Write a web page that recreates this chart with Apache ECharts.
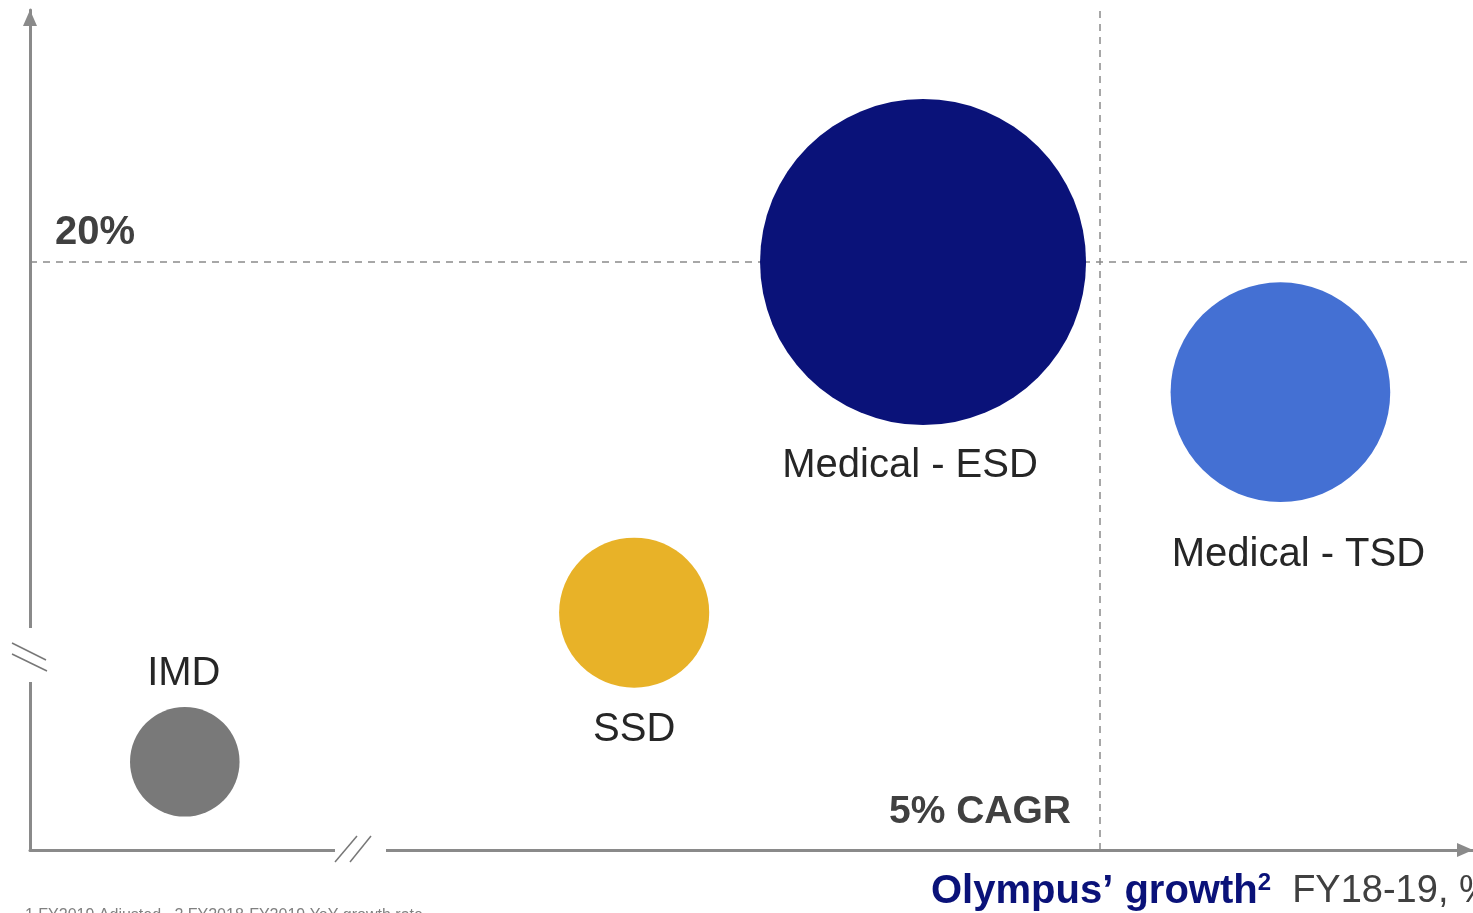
<!DOCTYPE html>
<html>
<head>
<meta charset="utf-8">
<script src="https://cdn.jsdelivr.net/npm/echarts@6/dist/echarts.min.js"></script>
<style>
  html, body { margin: 0; padding: 0; background: #fff; }
  #chart { width: 1473px; height: 913px; }
</style>
</head>
<body>
<div id="chart"></div>
<script>
// Olympus business units: own growth (x, %) vs market growth (y, %), bubble = revenue
const units = ["IMD", "SSD", "Medical - ESD", "Medical - TSD"];
const olympusGrowth = [-7.83, -1.53, 2.52, 7.53];
const marketGrowth = [8.1, 11.65, 20, 16.9];
const revenue = [49, 92, 434, 197];
const colors = ["#797979", "#E8B228", "#0A1279", "#4470D3"];
const cagrLine = 5;
const marketLine = 20;

const labelPlacement = [
  { position: "top", distance: 13, offset: [-1, 0] },
  { position: "bottom", distance: 22, offset: [0, 0] },
  { position: "bottom", distance: 21, offset: [-13, 0] },
  { position: "bottom", distance: 33, offset: [18, 0] }
];

const axisGrey = "#8a8a8a";
const textFont = "Liberation Sans, Arial, sans-serif";

const chart = echarts.init(document.getElementById("chart"));

chart.setOption({
  animation: false,
  grid: { left: 30, right: 0, top: 10, bottom: 63 },
  xAxis: {
    type: "value",
    min: -10,
    max: 10.23,
    axisLine: {
      show: true,
      onZero: false,
      symbol: ["none", "triangle"],
      symbolSize: [14, 16],
      symbolOffset: [0, -8],
      lineStyle: { color: axisGrey, width: 3 }
    },
    axisTick: { show: false },
    axisLabel: { show: false },
    splitLine: { show: false }
  },
  yAxis: {
    type: "value",
    min: 6,
    max: 26,
    axisLine: {
      show: true,
      onZero: false,
      symbol: ["none", "triangle"],
      symbolSize: [14, 16],
      symbolOffset: [0, -8],
      lineStyle: { color: axisGrey, width: 3 }
    },
    axisTick: { show: false },
    axisLabel: { show: false },
    splitLine: { show: false }
  },
  series: [
    {
      type: "scatter",
      z: 1,
      data: [],
      markLine: {
        silent: true,
        z: 1,
        symbol: "none",
        label: { show: false },
        lineStyle: { color: "#8a8a8a", width: 1.5, type: [7, 6] },
        data: [{ xAxis: cagrLine }, { yAxis: marketLine }]
      }
    },
    {
      type: "scatter",
      z: 3,
      data: units.map((name, i) => ({
        name: name,
        value: [olympusGrowth[i], marketGrowth[i], revenue[i]],
        itemStyle: { color: colors[i], opacity: 1 },
        label: labelPlacement[i]
      })),
      symbolSize: function (v) {
        return 15.65 * Math.sqrt(v[2]);
      },
      label: {
        show: true,
        formatter: "{b}",
        fontFamily: textFont,
        fontSize: 40,
        color: "#262626"
      }
    }
  ],
  graphic: [
    // y-axis break
    { type: "rect", z: 100, shape: { x: 22, y: 628, width: 16, height: 54 }, style: { fill: "#fff" } },
    { type: "line", z: 101, shape: { x1: 12, y1: 643, x2: 46, y2: 660 }, style: { stroke: "#777", lineWidth: 1.5 } },
    { type: "line", z: 101, shape: { x1: 12, y1: 654, x2: 47, y2: 671 }, style: { stroke: "#777", lineWidth: 1.5 } },
    // x-axis break
    { type: "rect", z: 100, shape: { x: 335, y: 842, width: 51, height: 16 }, style: { fill: "#fff" } },
    { type: "line", z: 101, shape: { x1: 335, y1: 862, x2: 357, y2: 836 }, style: { stroke: "#777", lineWidth: 1.5 } },
    { type: "line", z: 101, shape: { x1: 350, y1: 862, x2: 371, y2: 836 }, style: { stroke: "#777", lineWidth: 1.5 } },
    // annotations
    {
      type: "text", z: 102, left: 55, top: 213,
      style: { text: "20%", font: "bold 40px " + textFont, fill: "#404040" }
    },
    {
      type: "text", z: 102, right: 1473 - 1071, top: 793,
      style: { text: "5% CAGR", font: "bold 39px " + textFont, fill: "#404040", textAlign: "right" }
    },
    {
      type: "text", z: 102, left: 931, top: 871,
      style: {
        text: "{t|Olympus’ growth}{s|2}{u|  FY18-19, %}",
        rich: {
          t: { fontFamily: textFont, fontWeight: "bold", fontSize: 40, fill: "#0A1279" },
          s: { fontFamily: textFont, fontWeight: "bold", fontSize: 24, fill: "#0A1279", verticalAlign: "top", padding: [0, 0, 18, 0] },
          u: { fontFamily: textFont, fontSize: 38, fill: "#404040" }
        }
      }
    },
    {
      type: "text", z: 102, left: 25, top: 908,
      style: { text: "1 FY2019 Adjusted   2 FY2018-FY2019 YoY growth rate", font: "16px " + textFont, fill: "#808080" }
    }
  ]
});
</script>
</body>
</html>
